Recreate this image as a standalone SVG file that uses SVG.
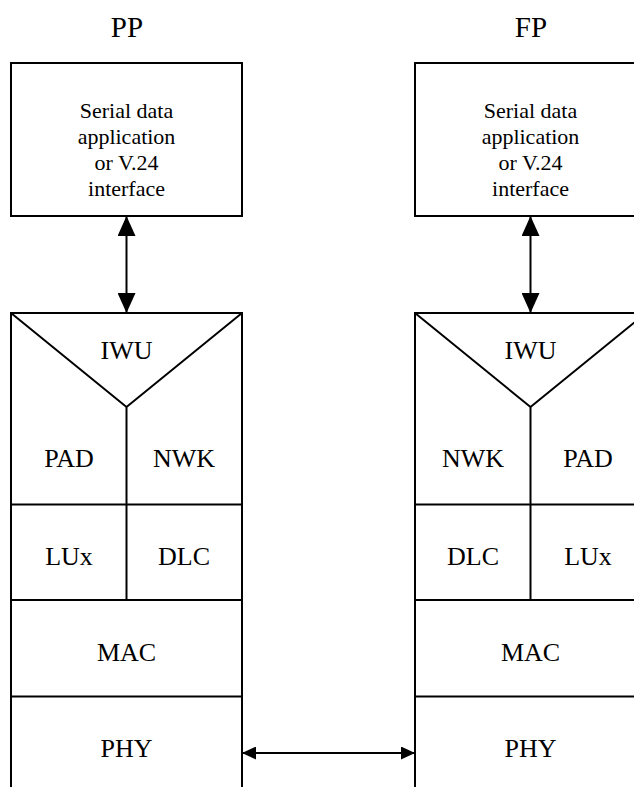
<svg xmlns="http://www.w3.org/2000/svg" width="634" height="787" viewBox="0 0 634 787" font-family="'Liberation Serif', 'Times New Roman', Times, 'DejaVu Serif', serif">
<style>
.ln{stroke:#000;stroke-width:2;fill:none}
.bx{stroke:#000;stroke-width:2;fill:#fff}
text{font-family:'Liberation Serif','Times New Roman',Times,'DejaVu Serif',serif;fill:#000;text-anchor:middle}
.big{font-size:26px}
.sm{font-size:22px}
.ttl{font-size:29px}
</style>
<defs>
<marker id="av" viewBox="0 0 20 18" refX="20" refY="9" markerWidth="20" markerHeight="18" markerUnits="userSpaceOnUse" orient="auto-start-reverse">
<path d="M0,0 L20,9 L0,18 Z" fill="#000"/>
</marker>
<marker id="ah" viewBox="0 0 14 13" refX="14" refY="6.5" markerWidth="14" markerHeight="13" markerUnits="userSpaceOnUse" orient="auto-start-reverse">
<path d="M0,0 L14,6.5 L0,13 Z" fill="#000"/>
</marker>
</defs>
<rect width="634" height="787" fill="#fff"/>
<text class="ttl" x="127" y="37">PP</text>
<text class="ttl" x="531" y="37">FP</text>
<g id="pp-app">
<rect class="bx" x="11" y="63" width="231" height="153"/>
<text class="sm" x="126.5" y="118">Serial data</text>
<text class="sm" x="126.5" y="144">application</text>
<text class="sm" x="126.5" y="170">or V.24</text>
<text class="sm" x="126.5" y="196">interface</text>
</g>
<g id="fp-app">
<rect class="bx" x="415" y="63" width="231" height="153"/>
<text class="sm" x="530.5" y="118">Serial data</text>
<text class="sm" x="530.5" y="144">application</text>
<text class="sm" x="530.5" y="170">or V.24</text>
<text class="sm" x="530.5" y="196">interface</text>
</g>
<g id="pp-stack">
<path class="ln" d="M11,788 V313 H242 V788 M11,313 L126.5,407 L242,313 M126.5,407 V600 M11,504.5 H242 M11,600 H242 M11,696.5 H242"/>
<text class="big" x="126.5" y="359">IWU</text>
<text class="big" x="69" y="467">PAD</text>
<text class="big" x="184" y="467">NWK</text>
<text class="big" x="69" y="565">LUx</text>
<text class="big" x="184" y="565">DLC</text>
<text class="big" x="126.5" y="661">MAC</text>
<text class="big" x="126.5" y="757">PHY</text>
</g>
<g id="fp-stack">
<path class="ln" d="M415,788 V313 H646 V788 M415,313 L530.5,407 L646,313 M530.5,407 V600 M415,504.5 H646 M415,600 H646 M415,696.5 H646"/>
<text class="big" x="530.5" y="359">IWU</text>
<text class="big" x="473" y="467">NWK</text>
<text class="big" x="588" y="467">PAD</text>
<text class="big" x="473" y="565">DLC</text>
<text class="big" x="588" y="565">LUx</text>
<text class="big" x="530.5" y="661">MAC</text>
<text class="big" x="530.5" y="757">PHY</text>
</g>
<g id="connectors">
<line class="ln" x1="126.5" y1="216" x2="126.5" y2="313" marker-start="url(#av)" marker-end="url(#av)"/>
<line class="ln" x1="530.5" y1="216" x2="530.5" y2="313" marker-start="url(#av)" marker-end="url(#av)"/>
<line class="ln" x1="242" y1="753" x2="415" y2="753" marker-start="url(#ah)" marker-end="url(#ah)"/>
</g>
</svg>
